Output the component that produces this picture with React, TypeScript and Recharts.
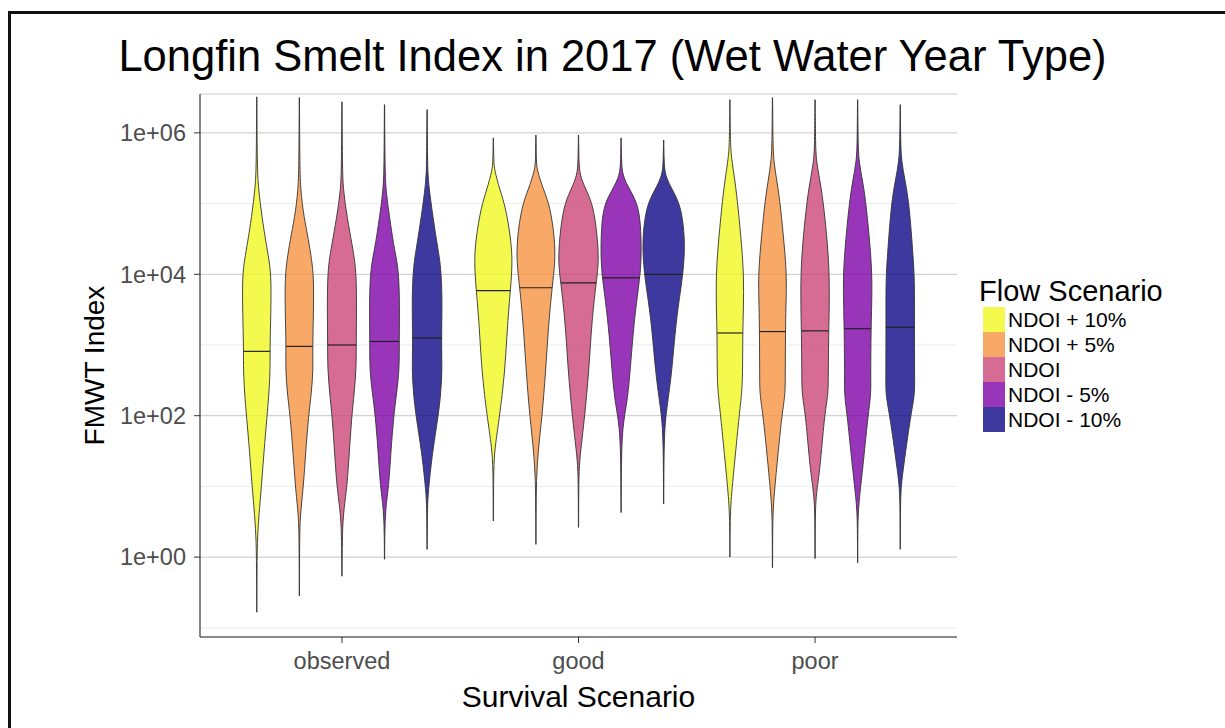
import React from 'react';
import { ComposedChart, Area, XAxis, YAxis, CartesianGrid, ReferenceLine, Label } from 'recharts';

const SURVIVAL_SCENARIOS = ['observed', 'good', 'poor'];
const FLOW_SCENARIOS = ['NDOI + 10%', 'NDOI + 5%', 'NDOI', 'NDOI - 5%', 'NDOI - 10%'];
const FLOW_COLORS = ['#F0F921', '#F89441', '#CC4678', '#7E03A8', '#0D0887'];

// y values are log10(FMWT index), labelled as 1e+XX
const MAJOR_BREAKS = [0, 2, 4, 6];
const MINOR_BREAKS = [-1, 1, 3, 5];

// violin profiles per flow scenario: [log10 index, relative density], top to bottom
const OBSERVED_PROFILES = [
  [[6.51, 0.005], [5.6, 0.02], [5.24, 0.06], [4.8, 0.25], [4.45, 0.43], [4.2, 0.58], [3.97, 0.67], [3.6, 0.67], [3.2, 0.64], [2.91, 0.62], [2.65, 0.63], [2.3, 0.57], [1.99, 0.48], [1.5, 0.34], [1.0, 0.22], [0.6, 0.1], [0.21, 0.02], [-0.3, 0.008], [-0.78, 0.005]],
  [[6.5, 0.005], [5.6, 0.02], [5.2, 0.05], [4.8, 0.22], [4.49, 0.43], [4.2, 0.58], [3.97, 0.67], [3.5, 0.67], [2.98, 0.62], [2.65, 0.65], [2.3, 0.56], [1.99, 0.43], [1.5, 0.3], [1.0, 0.19], [0.7, 0.08], [0.44, 0.02], [0.0, 0.008], [-0.55, 0.005]],
  [[6.44, 0.005], [5.6, 0.02], [5.2, 0.05], [4.8, 0.25], [4.41, 0.48], [4.2, 0.6], [3.97, 0.67], [3.6, 0.69], [3.0, 0.67], [2.65, 0.67], [2.3, 0.57], [1.99, 0.46], [1.5, 0.35], [1.0, 0.24], [0.7, 0.1], [0.44, 0.03], [0.0, 0.008], [-0.27, 0.005]],
  [[6.4, 0.005], [5.6, 0.02], [5.2, 0.05], [4.8, 0.24], [4.41, 0.43], [4.2, 0.58], [3.97, 0.67], [3.6, 0.71], [3.05, 0.69], [2.65, 0.7], [2.3, 0.56], [1.99, 0.43], [1.5, 0.3], [1.0, 0.2], [0.68, 0.04], [0.3, 0.01], [-0.03, 0.005]],
  [[6.33, 0.005], [5.6, 0.02], [5.3, 0.05], [4.8, 0.28], [4.41, 0.48], [4.2, 0.6], [3.97, 0.67], [3.6, 0.71], [3.0, 0.67], [2.65, 0.71], [2.3, 0.64], [1.99, 0.52], [1.48, 0.25], [1.0, 0.08], [0.77, 0.02], [0.4, 0.01], [0.11, 0.005]],
];
const OBSERVED_MEDIANS = [2.91, 2.98, 3.0, 3.05, 3.1];

const GOOD_PROFILES = [
  [[5.93, 0.005], [5.6, 0.02], [5.48, 0.05], [5.2, 0.3], [4.96, 0.57], [4.49, 0.83], [4.16, 0.9], [3.77, 0.8], [3.32, 0.67], [2.6, 0.54], [1.99, 0.29], [1.6, 0.1], [1.34, 0.02], [0.9, 0.008], [0.51, 0.005]],
  [[5.97, 0.005], [5.6, 0.02], [5.48, 0.05], [5.2, 0.35], [4.96, 0.67], [4.49, 0.89], [4.16, 0.9], [3.81, 0.76], [3.32, 0.6], [2.6, 0.45], [1.99, 0.29], [1.5, 0.1], [1.1, 0.02], [0.6, 0.008], [0.18, 0.005]],
  [[5.97, 0.005], [5.6, 0.02], [5.4, 0.06], [5.2, 0.35], [4.96, 0.71], [4.49, 0.9], [4.16, 0.95], [3.88, 0.83], [3.32, 0.62], [2.6, 0.48], [1.99, 0.29], [1.5, 0.1], [1.24, 0.02], [0.8, 0.008], [0.42, 0.005]],
  [[5.93, 0.005], [5.6, 0.02], [5.4, 0.06], [5.2, 0.4], [4.96, 0.86], [4.49, 0.95], [4.16, 0.94], [3.9, 0.86], [3.32, 0.6], [2.6, 0.42], [2.2, 0.29], [1.85, 0.06], [1.3, 0.01], [0.63, 0.005]],
  [[5.9, 0.005], [5.6, 0.02], [5.4, 0.06], [5.2, 0.4], [4.96, 0.83], [4.49, 1.0], [4.16, 0.95], [3.9, 0.86], [3.32, 0.57], [2.6, 0.38], [2.2, 0.19], [1.85, 0.04], [1.3, 0.01], [0.75, 0.005]],
];
const GOOD_MEDIANS = [3.77, 3.81, 3.88, 3.95, 4.0];

const POOR_PROFILES = [
  [[6.47, 0.005], [5.9, 0.02], [5.66, 0.06], [5.3, 0.25], [4.96, 0.38], [4.39, 0.56], [3.97, 0.65], [3.54, 0.64], [3.17, 0.6], [2.55, 0.6], [2.3, 0.55], [1.99, 0.43], [1.24, 0.19], [0.72, 0.02], [0.3, 0.008], [0.0, 0.005]],
  [[6.5, 0.005], [5.9, 0.02], [5.6, 0.05], [5.3, 0.22], [4.96, 0.38], [4.39, 0.56], [3.97, 0.67], [3.54, 0.63], [3.19, 0.61], [2.55, 0.6], [2.3, 0.6], [1.99, 0.43], [1.24, 0.19], [0.7, 0.02], [0.3, 0.008], [-0.15, 0.005]],
  [[6.47, 0.005], [5.9, 0.02], [5.6, 0.05], [5.3, 0.25], [4.96, 0.41], [4.39, 0.6], [3.97, 0.67], [3.54, 0.67], [3.2, 0.64], [2.55, 0.62], [2.3, 0.62], [1.99, 0.43], [1.24, 0.24], [0.85, 0.02], [0.4, 0.008], [-0.02, 0.005]],
  [[6.47, 0.005], [5.9, 0.02], [5.6, 0.05], [5.3, 0.25], [4.96, 0.41], [4.39, 0.59], [3.97, 0.68], [3.54, 0.66], [3.23, 0.63], [2.55, 0.61], [2.3, 0.63], [1.99, 0.48], [1.24, 0.24], [0.7, 0.02], [0.3, 0.008], [-0.08, 0.005]],
  [[6.4, 0.005], [5.9, 0.02], [5.6, 0.05], [5.3, 0.25], [4.96, 0.43], [4.39, 0.57], [3.97, 0.67], [3.54, 0.67], [2.55, 0.67], [2.3, 0.69], [1.99, 0.48], [1.24, 0.14], [0.96, 0.02], [0.5, 0.008], [0.11, 0.005]],
];
const POOR_MEDIANS = [3.17, 3.19, 3.2, 3.23, 3.25];

const GROUPS = [
  { profiles: OBSERVED_PROFILES, medians: OBSERVED_MEDIANS },
  { profiles: GOOD_PROFILES, medians: GOOD_MEDIANS },
  { profiles: POOR_PROFILES, medians: POOR_MEDIANS },
];

const DODGE = 0.18;
const HALF_WIDTH = 0.09;
const FONT = "'Liberation Sans', Arial, Helvetica, sans-serif";

function densityAt(profile: number[][], y: number) {
  for (let i = 0; i < profile.length - 1; i++) {
    const [y0, d0] = profile[i];
    const [y1, d1] = profile[i + 1];
    if (y <= y0 && y >= y1) return d0 + ((y0 - y) / (y0 - y1)) * (d1 - d0);
  }
  return 0;
}

const violins = GROUPS.flatMap((group, gi) =>
  group.profiles.map((profile, fi) => {
    const center = gi + 1 + (fi - 2) * DODGE;
    const data = profile.map(([y, d]) => ({
      y,
      x: [center - d * HALF_WIDTH, center + d * HALF_WIDTH],
    }));
    const m = group.medians[fi];
    const mw = densityAt(profile, m) * HALF_WIDTH;
    return { key: `${gi}-${fi}`, color: FLOW_COLORS[fi], data, median: m, left: center - mw, right: center + mw };
  })
);

const formatPow = (v: number) => `1e+${String(v).padStart(2, '0')}`;

export default function App() {
  return (
    <div style={{ position: 'absolute', left: 0, top: 0, width: 1225, height: 728, background: '#fff', fontFamily: FONT }}>
      <div style={{ position: 'absolute', left: 8, top: 11, width: 1217, height: 717, borderLeft: '3px solid #111', borderTop: '3px solid #111' }} />
      <div style={{ position: 'absolute', left: 0, top: 30, width: 1225, textAlign: 'center', fontSize: 43.5, lineHeight: '52px', color: '#000' }}>
        Longfin Smelt Index in 2017 (Wet Water Year Type)
      </div>

      <div style={{ position: 'absolute', left: 0, top: 0 }}>
        <ComposedChart width={1225} height={728} layout="vertical" margin={{ top: 94, right: 268, bottom: 0, left: 0 }}>
          <CartesianGrid vertical={false} stroke="#d2d2d2" strokeWidth={1.3} />
          <CartesianGrid vertical={false} yAxisId="minor" stroke="#ececec" strokeWidth={1} />
          <XAxis
            type="number"
            domain={[0.4, 3.6]}
            ticks={[1, 2, 3]}
            allowDataOverflow
            tickFormatter={(v: number) => SURVIVAL_SCENARIOS[v - 1]}
            height={91}
            tick={{ fontSize: 23.5, fill: '#4d4d4d', fontFamily: FONT }}
            tickLine={{ stroke: '#333' }}
            tickSize={6}
            tickMargin={9}
            axisLine={{ stroke: '#333', strokeWidth: 1.2 }}
          >
            <Label value="Survival Scenario" position="insideBottom" offset={21} style={{ fontSize: 30, fill: '#000', fontFamily: FONT }} />
          </XAxis>
          <YAxis
            type="number"
            dataKey="y"
            reversed
            domain={[-1.13, 6.55]}
            ticks={MAJOR_BREAKS}
            allowDataOverflow
            tickFormatter={formatPow}
            width={200}
            tick={{ fontSize: 23.5, fill: '#4d4d4d', fontFamily: FONT }}
            tickLine={{ stroke: '#333' }}
            tickSize={6}
            tickMargin={8}
            axisLine={{ stroke: '#333', strokeWidth: 1.2 }}
          >
            <Label value="FMWT Index" angle={-90} position="insideLeft" offset={94} style={{ fontSize: 28, fill: '#000', fontFamily: FONT, textAnchor: 'middle' }} />
          </YAxis>
          <YAxis yAxisId="minor" type="number" dataKey="y" reversed domain={[-1.13, 6.55]} ticks={MINOR_BREAKS} allowDataOverflow hide />

          {violins.map((v) => (
            <Area
              key={v.key}
              data={v.data}
              dataKey="x"
              type="basis"
              fill={v.color}
              fillOpacity={0.8}
              stroke="#333"
              strokeWidth={0.9}
              dot={false}
              activeDot={false}
              legendType="none"
              isAnimationActive={false}
            />
          ))}
          {violins.map((v) => (
            <ReferenceLine
              key={`m-${v.key}`}
              segment={[{ x: v.left, y: v.median }, { x: v.right, y: v.median }]}
              stroke="#222"
              strokeWidth={1.2}
            />
          ))}
        </ComposedChart>
      </div>

      {/* legend */}
      <div style={{ position: 'absolute', left: 979, top: 276, color: '#000' }}>
        <div style={{ fontSize: 29, lineHeight: '31px' }}>Flow Scenario</div>
        {FLOW_SCENARIOS.map((name, i) => (
          <div key={name} style={{ display: 'flex', alignItems: 'center', height: 25 }}>
            <div style={{ width: 22, height: 25, marginLeft: 4, background: FLOW_COLORS[i], opacity: 0.8 }} />
            <span style={{ fontSize: 21, marginLeft: 3 }}>{name}</span>
          </div>
        ))}
      </div>
    </div>
  );
}
